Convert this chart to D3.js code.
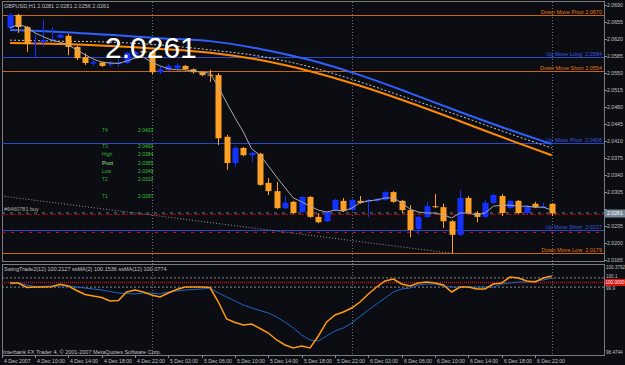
<!DOCTYPE html>
<html>
<head>
<meta charset="utf-8">
<script src="https://cdn.jsdelivr.net/npm/d3@7"></script>
<style>
  body { margin: 0; background: #0b0d12; }
  svg text { font-family: "Liberation Sans", Arial, sans-serif; }
</style>
</head>
<body>
<svg id="chart" width="625" height="365"></svg>
<script>
// GBPUSD H1, first bar 4 Dec 2007 07:00
const firstBar = "2007-12-04T07:00Z";
const open  = [2.0643,2.0670,2.0645,2.0612,2.0614,2.0618,2.0623,2.0627,2.0604,2.0583,
               2.0570,2.0572,2.0568,2.0569,2.0571,2.0587,2.0596,2.0594,2.0552,2.0556,
               2.0560,2.0565,2.0558,2.0552,2.0547,2.0546,2.0419,2.0365,2.0396,2.0381,
               2.0384,2.0324,2.0307,2.0272,2.0285,2.0264,2.0295,2.0254,2.0245,2.0268,
               2.0287,2.0268,2.0287,2.0285,2.0287,2.0289,2.0305,2.0287,2.0268,2.0229,
               2.0254,2.0276,2.0274,2.0245,2.0217,2.0293,2.0262,2.0254,2.0283,2.0297,
               2.0272,2.0287,2.0262,2.0281,2.0274,2.0281];
const high  = [2.0674,2.0672,2.0647,2.0630,2.0660,2.0645,2.0631,2.0631,2.0606,2.0591,
               2.0577,2.0574,2.0575,2.0580,2.0594,2.0596,2.0600,2.0596,2.0563,2.0569,
               2.0570,2.0567,2.0560,2.0554,2.0557,2.0550,2.0423,2.0400,2.0398,2.0388,
               2.0386,2.0334,2.0326,2.0297,2.0287,2.0297,2.0297,2.0262,2.0266,2.0291,
               2.0293,2.0291,2.0297,2.0291,2.0293,2.0307,2.0307,2.0289,2.0278,2.0256,
               2.0285,2.0301,2.0281,2.0247,2.0309,2.0297,2.0266,2.0289,2.0301,2.0301,
               2.0289,2.0289,2.0278,2.0285,2.0283,2.0281];
const low   = [2.0639,2.0633,2.0594,2.0583,2.0604,2.0615,2.0622,2.0587,2.0577,2.0567,
               2.0565,2.0563,2.0563,2.0563,2.0569,2.0585,2.0588,2.0548,2.0548,2.0554,
               2.0556,2.0555,2.0549,2.0544,2.0532,2.0402,2.0351,2.0357,2.0379,2.0367,
               2.0318,2.0299,2.0270,2.0270,2.0260,2.0262,2.0252,2.0241,2.0243,2.0266,
               2.0264,2.0266,2.0281,2.0254,2.0285,2.0287,2.0283,2.0262,2.0212,2.0217,
               2.0252,2.0272,2.0231,2.0179,2.0215,2.0260,2.0243,2.0252,2.0281,2.0256,
               2.0270,2.0260,2.0260,2.0272,2.0272,2.0256];
const close = [2.0670,2.0645,2.0610,2.0614,2.0618,2.0620,2.0629,2.0604,2.0581,2.0571,
               2.0573,2.0565,2.0571,2.0572,2.0592,2.0594,2.0592,2.0552,2.0558,2.0565,
               2.0566,2.0558,2.0552,2.0546,2.0546,2.0416,2.0365,2.0396,2.0381,2.0386,
               2.0320,2.0307,2.0272,2.0283,2.0262,2.0295,2.0254,2.0243,2.0264,2.0289,
               2.0266,2.0289,2.0283,2.0289,2.0291,2.0305,2.0285,2.0268,2.0227,2.0254,
               2.0276,2.0274,2.0245,2.0217,2.0293,2.0262,2.0254,2.0283,2.0299,2.0262,
               2.0287,2.0262,2.0276,2.0274,2.0276,2.0261];
const fastMA = [2.0643,2.0651,2.0645,2.0633,2.0625,2.0618,2.0614,2.0608,2.0598,2.0588,
                2.0579,2.0573,2.0571,2.0570,2.0575,2.0581,2.0583,2.0573,2.0565,2.0559,
                2.0557,2.0557,2.0554,2.0552,2.0550,2.0522,2.0489,2.0458,2.0429,2.0394,
                2.0381,2.0359,2.0336,2.0314,2.0293,2.0285,2.0276,2.0268,2.0264,2.0268,
                2.0266,2.0272,2.0283,2.0287,2.0289,2.0293,2.0293,2.0283,2.0270,2.0264,
                2.0262,2.0262,2.0258,2.0252,2.0262,2.0262,2.0258,2.0262,2.0276,2.0278,
                2.0278,2.0276,2.0276,2.0274,2.0274,2.0268];
// slow averages, read every 6 bars
const slowBars = [0,6,12,18,24,30,36,42,48,54,60,65];
const blueMA   = [2.0639,2.0635,2.0629,2.0622,2.0616,2.0600,2.0577,2.0546,2.0509,2.0470,2.0433,2.0404];
const dotMA    = [2.0618,2.0616,2.0614,2.0608,2.0598,2.0585,2.0563,2.0532,2.0497,2.0462,2.0425,2.0396];
const orangeMA = [2.0612,2.0610,2.0606,2.0600,2.0592,2.0577,2.0554,2.0524,2.0489,2.0451,2.0412,2.0381];

// SwingTrade2 sub window
const swing = [99.990,99.990,99.892,99.903,99.903,99.910,99.962,99.925,99.827,99.741,
               99.708,99.676,99.600,99.611,99.795,99.838,99.795,99.730,99.687,99.773,
               99.849,99.903,99.903,99.903,99.892,99.578,99.210,99.135,99.081,99.102,
               99.005,98.907,98.756,98.648,98.583,98.626,98.583,98.843,99.146,99.297,
               99.362,99.448,99.578,99.752,99.903,100.033,100.076,99.968,99.925,99.990,
               100.011,99.990,99.946,99.795,99.903,99.903,99.860,99.860,99.968,99.990,
               100.119,100.098,100.033,100.011,100.098,100.141];
const swingMA = [99.968,99.990,99.946,99.914,99.914,99.925,99.925,99.925,99.903,99.881,
                 99.860,99.838,99.806,99.773,99.762,99.752,99.773,99.773,99.752,99.795,
                 99.816,99.838,99.849,99.860,99.881,99.773,99.687,99.600,99.513,99.448,
                 99.394,99.340,99.254,99.146,99.016,98.864,98.756,98.734,98.843,98.951,
                 99.016,99.124,99.265,99.405,99.535,99.665,99.795,99.860,99.881,99.946,
                 99.968,99.968,99.925,99.903,99.903,99.903,99.903,99.903,99.903,99.968,
                 99.990,100.011,100.011,100.033,100.055,100.098];
const swingLevels = [100.1, 100.0, 99.9];

const priceTicks = ["2.0690","2.0655","2.0620","2.0585","2.0550","2.0515","2.0480","2.0445",
                    "2.0410","2.0375","2.0340","2.0305","2.0270","2.0235","2.0200","2.0165"];
const timeTicks = ["2007-12-04T06:00Z","2007-12-04T10:00Z","2007-12-04T14:00Z","2007-12-04T18:00Z",
                   "2007-12-04T22:00Z","2007-12-05T02:00Z","2007-12-05T06:00Z","2007-12-05T10:00Z",
                   "2007-12-05T14:00Z","2007-12-05T18:00Z","2007-12-05T22:00Z","2007-12-06T02:00Z",
                   "2007-12-06T06:00Z","2007-12-06T10:00Z","2007-12-06T14:00Z","2007-12-06T18:00Z",
                   "2007-12-06T22:00Z"];
const timeLabels = ["4 Dec 2007","4 Dec 10:00","4 Dec 14:00","4 Dec 18:00","4 Dec 22:00",
                    "5 Dec 02:00","5 Dec 06:00","5 Dec 10:00","5 Dec 14:00","5 Dec 18:00",
                    "5 Dec 22:00","6 Dec 02:00","6 Dec 06:00","6 Dec 10:00","6 Dec 14:00",
                    "6 Dec 18:00","6 Dec 22:00"];
const daySeparators = ["2007-12-05T00:00Z","2007-12-06T00:00Z","2007-12-07T00:00Z"];

const levelNames  = ["Down Move Pivot","Up Move Long ","Down Move Short","Up Move Pivot ","Up Move Short ","Down Move Low "];
const levelValues = [2.0670, 2.0584, 2.0554, 2.0406, 2.0227, 2.0179];
const levelIsUp   = [false, true, false, true, true, false];

const pivotNames  = ["T4","T3","High","Pivot","Low","T2","T1"];
const pivotValues = [2.0433, 2.0400, 2.0384, 2.0365, 2.0349, 2.0332, 2.0297];

const bid = 2.0261, stopLoss = 2.0222;
const trendTimes  = ["2007-12-04T06:00Z", "2007-12-06T12:00Z"];
const trendPrices = [2.0297, 2.0179];

const svg = d3.select("#chart");
const W = 625, H = 365;
const left = 2, right = 604, mainTop = 2, mainBottom = 262, subTop = 264, subBottom = 355;
const bull = "#1432ff", bear = "#ffa024", orangeLine = "#c8660c", blueLine = "#2c48c8";

const t0 = new Date(firstBar);
const barTime = i => new Date(t0.getTime() + i * 3600e3);
const x = d3.scaleUtc().domain([barTime(0), barTime(65)]).range([10, 551.7]);
const y = d3.scaleLinear().domain([2.0165, 2.0690]).range([260.1, 5.2]);
const ys = d3.scaleLinear().domain([98.4744, 100.3792]).range([353, 265]);

svg.append("rect").attr("width", W).attr("height", H).attr("fill", "#0b0d12");

let defs = svg.append("defs");
defs.append("clipPath").attr("id", "clipMain").append("rect")
  .attr("x", left).attr("y", mainTop).attr("width", right - left).attr("height", mainBottom - mainTop);
defs.append("clipPath").attr("id", "clipSub").append("rect")
  .attr("x", left).attr("y", subTop).attr("width", right - left).attr("height", subBottom - subTop);

// frames
let frame = svg.append("g").attr("fill", "none").attr("stroke", "#7c7c7c").attr("stroke-width", 1);
frame.append("rect").attr("x", left + 0.5).attr("y", mainTop - 0.5).attr("width", right - left).attr("height", mainBottom - mainTop);
frame.append("rect").attr("x", left + 0.5).attr("y", subTop + 0.5).attr("width", right - left).attr("height", subBottom - subTop);

// day separators
svg.append("g").selectAll("line").data(daySeparators).enter().append("line")
  .attr("x1", d => Math.round(x(new Date(d))) + 0.5).attr("x2", d => Math.round(x(new Date(d))) + 0.5)
  .attr("y1", mainTop).attr("y2", subBottom)
  .attr("stroke", "#6c6c6c").attr("stroke-dasharray", "1,2");

let g = svg.append("g").attr("clip-path", "url(#clipMain)");

// horizontal levels
levelValues.forEach((v, i) => {
  let col = levelIsUp[i] ? blueLine : orangeLine;
  g.append("line").attr("x1", left).attr("x2", right)
    .attr("y1", Math.round(y(v)) + 0.5).attr("y2", Math.round(y(v)) + 0.5)
    .attr("stroke", col).attr("stroke-width", 1);
  g.append("text").attr("x", 602).attr("y", Math.round(y(v)) - 1)
    .attr("text-anchor", "end").attr("font-size", 5.5)
    .attr("fill", levelIsUp[i] ? "#3a5ae0" : "#e07a10")
    .attr("xml:space", "preserve")
    .text(levelNames[i] + " " + v.toFixed(4));
});

// order line, stop loss, bid
g.append("line").attr("x1", left).attr("x2", right).attr("y1", y(bid) + 1).attr("y2", y(bid) + 1)
  .attr("stroke", "#8a0a0a").attr("stroke-width", 1.2).attr("stroke-dasharray", "6,2");
g.append("line").attr("x1", left).attr("x2", right).attr("y1", y(bid) - 0.5).attr("y2", y(bid) - 0.5)
  .attr("stroke", "#6a7a8a").attr("stroke-width", 1).attr("stroke-dasharray", "3,5");
g.append("line").attr("x1", left).attr("x2", right).attr("y1", y(stopLoss)).attr("y2", y(stopLoss))
  .attr("stroke", "#c01010").attr("stroke-width", 1.2).attr("stroke-dasharray", "3,6");
g.append("text").attr("x", 4).attr("y", y(bid) - 2).attr("font-size", 5.5).attr("fill", "#b0b0b0").text("#6460781 buy");

// trend line
g.append("line")
  .attr("x1", x(new Date(trendTimes[0]))).attr("y1", y(trendPrices[0]))
  .attr("x2", x(new Date(trendTimes[1]))).attr("y2", y(trendPrices[1]))
  .attr("stroke", "#9a9a9a").attr("stroke-dasharray", "1,2");

// slow averages
const slowLine = d3.line().x((d, i) => x(barTime(slowBars[i]))).y(d => y(d)).curve(d3.curveMonotoneX);
g.append("path").attr("d", slowLine(blueMA)).attr("fill", "none").attr("stroke", "#3060ff").attr("stroke-width", 2);
g.append("path").attr("d", slowLine(orangeMA)).attr("fill", "none").attr("stroke", "#ff8a00").attr("stroke-width", 2);
g.append("path").attr("d", slowLine(dotMA)).attr("fill", "none").attr("stroke", "#c8c8c8").attr("stroke-width", 1).attr("stroke-dasharray", "2,2");

// candles
let bars = g.selectAll(".bar").data(open).enter().append("g").attr("class", "bar");
bars.append("line")
  .attr("x1", (d, i) => Math.round(x(barTime(i))) + 0.5).attr("x2", (d, i) => Math.round(x(barTime(i))) + 0.5)
  .attr("y1", (d, i) => y(high[i])).attr("y2", (d, i) => y(low[i]))
  .attr("stroke", (d, i) => close[i] >= open[i] ? bull : bear);
bars.append("rect")
  .attr("x", (d, i) => Math.round(x(barTime(i))) - 2.5)
  .attr("width", 6)
  .attr("y", (d, i) => y(Math.max(open[i], close[i])))
  .attr("height", (d, i) => Math.max(1, Math.abs(y(open[i]) - y(close[i]))))
  .attr("fill", (d, i) => close[i] >= open[i] ? bull : bear);

// fast average
g.append("path")
  .attr("d", d3.line().x((d, i) => x(barTime(i))).y(d => y(d))(fastMA))
  .attr("fill", "none").attr("stroke", "#a8a8a8").attr("stroke-width", 1);

// pivot table
pivotNames.forEach((n, i) => {
  g.append("text").attr("x", 102).attr("y", y(pivotValues[i]) + 2).attr("font-size", 5)
    .attr("fill", n === "Pivot" ? "#9ee09e" : "#2fae2f").text(n);
  g.append("text").attr("x", 138).attr("y", y(pivotValues[i]) + 2).attr("font-size", 5)
    .attr("fill", "#3cc03c").text(pivotValues[i].toFixed(4));
});

// big price
g.append("text").attr("x", 105).attr("y", 58).attr("font-size", 30).attr("fill", "#ffffff").text(bid.toFixed(4));

// title
svg.append("text").attr("x", 4).attr("y", 7.5).attr("font-size", 5.5).attr("fill", "#c0c0c0")
  .text("GBPUSD,H1  2.0281 2.0281 2.0256 2.0261");

// price axis
let axis = svg.append("g").attr("font-size", 5.2).attr("fill", "#c0c0c0");
priceTicks.forEach(t => {
  let py = y(+t);
  axis.append("line").attr("x1", right).attr("x2", right + 3).attr("y1", Math.round(py) + 0.5).attr("y2", Math.round(py) + 0.5)
    .attr("stroke", "#8c8c8c");
  if (Math.abs(py - y(bid)) > 6) axis.append("text").attr("x", 607).attr("y", py + 2).text(t);
});
axis.append("rect").attr("x", 605).attr("y", y(bid) - 4).attr("width", 20).attr("height", 8).attr("fill", "#778899");
axis.append("text").attr("x", 607).attr("y", y(bid) + 2).attr("fill", "#ffffff").text(bid.toFixed(4));

// sub window
let s = svg.append("g").attr("clip-path", "url(#clipSub)");
swingLevels.forEach(v => {
  s.append("line").attr("x1", left).attr("x2", right).attr("y1", ys(v)).attr("y2", ys(v))
    .attr("stroke", v === 100 ? "#c01010" : "#8a8a8a").attr("stroke-width", v === 100 ? 1.5 : 1)
    .attr("stroke-dasharray", v === 100 ? "1,1" : "2,2");
});
const subLine = d3.line().x((d, i) => x(barTime(i))).y(d => ys(d));
s.append("path").attr("d", subLine(swingMA)).attr("fill", "none").attr("stroke", "#1e64c8").attr("stroke-width", 1);
s.append("path").attr("d", subLine(swing)).attr("fill", "none").attr("stroke", "#ff9a10").attr("stroke-width", 1.5);
svg.append("text").attr("x", 4).attr("y", 271).attr("font-size", 5.5).attr("fill", "#c0c0c0")
  .text("SwingTrade2(12) 100.2127  ssMA(2) 100.1536  ssMA(12) 100.0774");
svg.append("text").attr("x", 3).attr("y", 353.5).attr("font-size", 5.5).attr("fill", "#c0c0c0")
  .text("Interbank FX Trader 4, © 2001-2007 MetaQuotes Software Corp.");

let subAxis = svg.append("g").attr("font-size", 4.6).attr("fill", "#c0c0c0");
subAxis.append("text").attr("x", 606).attr("y", 269).text("100.3792");
subAxis.append("text").attr("x", 606).attr("y", ys(100.1) + 0.5).text("100.1");
subAxis.append("text").attr("x", 606).attr("y", ys(99.9) + 2.5).text("99.9");
subAxis.append("text").attr("x", 606).attr("y", 354).text("98.4744");
subAxis.append("rect").attr("x", 605).attr("y", ys(100) - 3.5).attr("width", 20).attr("height", 7).attr("fill", "#e01010");
subAxis.append("text").attr("x", 605.5).attr("y", ys(100) + 1.8).attr("fill", "#ffffff").text("100.0000");

// time axis
let ta = svg.append("g").attr("font-size", 5.2).attr("fill", "#c0c0c0");
timeTicks.forEach((t, i) => {
  let tx = Math.round(x(new Date(t))) + 0.5;
  ta.append("line").attr("x1", tx).attr("x2", tx).attr("y1", subBottom).attr("y2", subBottom + 3).attr("stroke", "#8c8c8c");
  ta.append("text").attr("x", tx + 1.5).attr("y", 363).text(timeLabels[i]);
});
</script>
</body>
</html>
